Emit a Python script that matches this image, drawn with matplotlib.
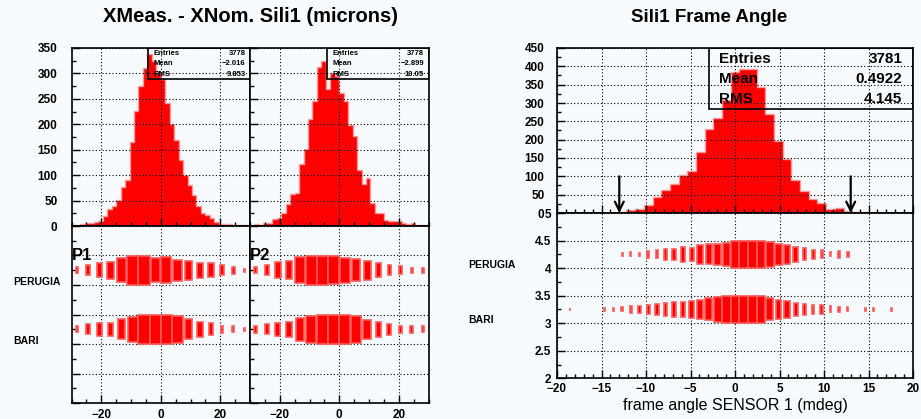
import numpy as np
import matplotlib
matplotlib.use("Agg")
import matplotlib.pyplot as plt
from matplotlib.patches import Rectangle
from matplotlib.ticker import MultipleLocator

# residuals XMeas - XNom, 40 bins from -30 to 30 microns
res_edges = np.linspace(-30, 30, 41)
p1_counts = [2, 2, 3, 5, 6, 8, 9, 20, 33, 40, 52, 76, 91, 166, 226, 275, 310, 338, 325, 300,
             289, 241, 200, 170, 130, 100, 80, 60, 40, 25, 22, 15, 8, 4, 3, 4, 2, 2, 1, 1]
p2_counts = [1, 3, 1, 5, 5, 14, 15, 26, 43, 62, 65, 122, 151, 210, 245, 312, 325, 269, 300, 295,
             261, 246, 199, 176, 110, 83, 94, 46, 25, 25, 11, 10, 9, 10, 5, 3, 5, 2, 1, 1]
p1_stats = ["3778", "-2.016", "9.853"]
p2_stats = ["3778", "-2.899", "10.05"]

# box sizes (relative content) per site, 16 bins from -30 to 30
box_edges = np.linspace(-30, 30, 17)
p1_perugia = [0.19, 0.34, 0.47, 0.58, 0.82, 0.97, 1.0, 0.82, 0.88, 0.72, 0.64, 0.5, 0.46, 0.34, 0.24, 0.1]
p1_bari = [0.19, 0.34, 0.43, 0.45, 0.68, 0.85, 1.0, 1.0, 1.0, 0.91, 0.68, 0.5, 0.4, 0.23, 0.19, 0.09]
p2_perugia = [0.22, 0.34, 0.55, 0.6, 0.88, 1.0, 1.0, 0.94, 0.85, 0.74, 0.63, 0.49, 0.35, 0.26, 0.17, 0.17]
p2_bari = [0.23, 0.33, 0.44, 0.52, 0.77, 0.91, 1.0, 1.0, 1.0, 0.91, 0.66, 0.5, 0.36, 0.23, 0.23, 0.19]

# frame angle, 41 bins from -20 to 20 mdeg
angle_edges = np.linspace(-20, 20, 42)
angle_counts = [0, 1, 0, 0, 0, 1, 1, 3, 8, 10, 21, 43, 63, 79, 104, 115, 167, 228, 258, 308,
                385, 392, 394, 343, 269, 197, 148, 90, 61, 37, 26, 12, 14, 5, 3, 3, 1, 0, 1, 0, 0]
angle_stats = ["3781", "0.4922", "4.145"]
angle_perugia = [0, 0, 0, 0, 0, 0, 0, 0.12, 0.14, 0.12, 0.25, 0.30, 0.38, 0.42, 0.54, 0.48, 0.67,
                 0.72, 0.77, 0.83, 1.0, 1.0, 1.0, 0.97, 0.93, 0.77, 0.67, 0.53, 0.43, 0.35, 0.29,
                 0.15, 0.24, 0.19, 0, 0, 0, 0, 0, 0, 0]
angle_bari = [0, 0.08, 0, 0, 0, 0.08, 0.08, 0.15, 0.23, 0.25, 0.31, 0.4, 0.45, 0.52, 0.52, 0.6, 0.67,
              0.8, 0.9, 0.97, 1.0, 1.0, 1.0, 1.0, 0.8, 0.67, 0.6, 0.48, 0.41, 0.31, 0.31,
              0.22, 0.18, 0.14, 0, 0.1, 0.1, 0, 0.08, 0, 0]
cut_lo, cut_hi = -13, 13
site_names = ["PERUGIA", "BARI"]
site_y = [4.0, 3.0]

RED = "#ff0000"
EDGE = "#ff9a9a"
BOX_EDGE = "#ff5a5a"
BG = "#f7fbfe"
plt.rcParams["font.family"] = ["Liberation Sans", "DejaVu Sans"]
plt.rcParams["xtick.direction"] = "in"
plt.rcParams["ytick.direction"] = "in"
plt.rcParams["axes.linewidth"] = 1.2

W, H = 921, 419
fig = plt.figure(figsize=(W / 100, H / 100), dpi=100, facecolor=BG)


def px_axes(x0, y0, x1, y1):
    ax = fig.add_axes([x0 / W, 1 - y1 / H, (x1 - x0) / W, (y1 - y0) / H])
    ax.set_facecolor(BG)
    return ax


def style(ax, xmaj, xmin, ymaj, ymin):
    ax.xaxis.set_major_locator(MultipleLocator(xmaj))
    ax.xaxis.set_minor_locator(MultipleLocator(xmin))
    ax.yaxis.set_major_locator(MultipleLocator(ymaj))
    ax.yaxis.set_minor_locator(MultipleLocator(ymin))
    ax.tick_params(which="major", length=6, width=1)
    ax.tick_params(which="minor", length=3, width=1)
    ax.tick_params(labelsize=8.5)
    for lab in ax.get_xticklabels() + ax.get_yticklabels():
        lab.set_fontweight("bold")
    ax.grid(True, which="major", color="k", linestyle=(0, (1, 2)), linewidth=0.8)
    ax.set_axisbelow(False)


def stat_box(ax, vals, x0, y0, fs, rows, lab_x, val_x):
    ax.add_patch(Rectangle((x0, y0), 1 - x0, 1 - y0, transform=ax.transAxes,
                           facecolor="none", edgecolor="k", linewidth=1.2, zorder=5))
    for name, v, yy in zip(["Entries", "Mean", "RMS"], vals, rows):
        ax.text(lab_x, yy, name, transform=ax.transAxes, fontsize=fs, fontweight="bold",
                va="center", ha="left", zorder=6)
        ax.text(val_x, yy, v.replace("-", "\u2212"), transform=ax.transAxes, fontsize=fs,
                fontweight="bold", va="center", ha="right", zorder=6)


def boxes(ax, edges, sizes, y0):
    w = edges[1] - edges[0]
    centers = (edges[:-1] + edges[1:]) / 2
    for c, s in zip(centers, sizes):
        if s <= 0:
            continue
        ax.add_patch(Rectangle((c - s * w / 2, y0 + 0.25 - s * 0.25), s * w, s * 0.5,
                               facecolor=RED, edgecolor=BOX_EDGE, linewidth=1.2, zorder=3))


# ---- left: residual panels
left_x = [(71.5, 250), (250, 428.5)]
counts = [p1_counts, p2_counts]
stats = [p1_stats, p2_stats]
box_sets = [[p1_perugia, p1_bari], [p2_perugia, p2_bari]]
for i, (x0, x1) in enumerate(left_x):
    top = px_axes(x0, 48, x1, 226)
    top.stairs(counts[i], res_edges, fill=True, facecolor=RED, edgecolor=EDGE, linewidth=1, zorder=2)
    top.set_xlim(-30, 30)
    top.set_ylim(0, 350)
    style(top, 20, 5, 50, 25)
    top.set_xticklabels([])
    top.tick_params(axis="y", pad=10)
    if i > 0:
        top.set_yticklabels([])
    stat_box(top, stats[i], 0.43, 0.826, 5.5, [0.968, 0.913, 0.853], 0.46, 0.975)

    bot = px_axes(x0, 226, x1, 403)
    for sizes, yy in zip(box_sets[i], site_y):
        boxes(bot, box_edges, sizes, yy)
    bot.set_xlim(-30, 30)
    bot.set_ylim(2, 5)
    style(bot, 20, 5, 0.5, 0.25)
    bot.set_yticklabels([])
    bot.tick_params(axis="x", pad=4)
    bot.text(0.0, 0.835, "P%d" % (i + 1), transform=bot.transAxes, fontsize=12,
             fontweight="bold", ha="left", va="center")

fig.text(13 / W, 1 - 282 / H, site_names[0], fontsize=7.5, fontweight="bold", va="center")
fig.text(13 / W, 1 - 341 / H, site_names[1], fontsize=7.5, fontweight="bold", va="center")
fig.text(250 / W, 1 - 17 / H, "XMeas. - XNom. Sili1 (microns)", fontsize=14.5,
         fontweight="bold", ha="center", va="center")

# ---- right: frame angle
rt = px_axes(557, 48, 913, 213)
rt.stairs(angle_counts, angle_edges, fill=True, facecolor=RED, edgecolor=EDGE, linewidth=1, zorder=2)
rt.set_xlim(-20, 20)
rt.set_ylim(0, 450)
style(rt, 5, 1, 50, 25)
rt.set_xticklabels([])
rt.tick_params(axis="y", pad=9)
stat_box(rt, angle_stats, 0.427, 0.63, 11, [0.933, 0.81, 0.689], 0.455, 0.97)
for xc in (cut_lo, cut_hi):
    rt.annotate("", xy=(xc, 0), xytext=(xc, 100),
                arrowprops=dict(arrowstyle="->", color="k", lw=1.6, mutation_scale=16,
                                shrinkA=0, shrinkB=0), zorder=7)

rb = px_axes(557, 213, 913, 378.3)
boxes(rb, angle_edges, angle_perugia, site_y[0])
boxes(rb, angle_edges, angle_bari, site_y[1])
rb.set_xlim(-20, 20)
rb.set_ylim(2, 5)
style(rb, 5, 1, 0.5, 0.25)
rb.set_yticks([2, 2.5, 3, 3.5, 4, 4.5, 5])
rb.set_yticklabels(["2", "2.5", "3", "3.5", "4", "4.5", "5"], fontweight="bold")
rb.tick_params(axis="y", pad=4)
rb.set_xticks(range(-20, 21, 5))
rb.set_xticklabels([str(v).replace("-", "\u2212") for v in range(-20, 21, 5)], fontweight="bold")
rb.set_xlabel("frame angle SENSOR 1 (mdeg)", fontsize=11.5, labelpad=2)

fig.text(468 / W, 1 - 265 / H, site_names[0], fontsize=7.5, fontweight="bold", va="center")
fig.text(468 / W, 1 - 320 / H, site_names[1], fontsize=7.5, fontweight="bold", va="center")
fig.text(709 / W, 1 - 17 / H, "Sili1 Frame Angle", fontsize=13.5, fontweight="bold",
         ha="center", va="center")

fig.savefig("out.png", dpi=100, facecolor=BG)
